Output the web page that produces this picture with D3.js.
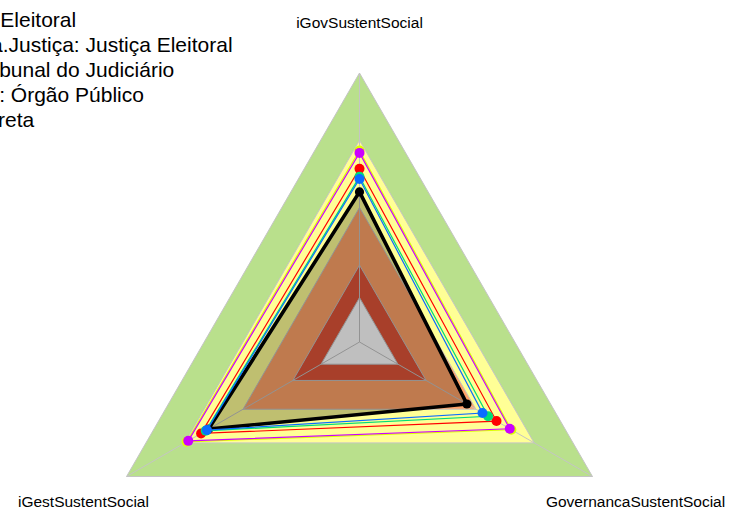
<!DOCTYPE html>
<html>
<head>
<meta charset="utf-8">
<script src="https://cdn.jsdelivr.net/npm/d3@7"></script>
<style>
  html, body { margin: 0; padding: 0; background: #ffffff; }
  svg { display: block; font-family: "Liberation Sans", Arial, sans-serif; }
</style>
</head>
<body>
<svg id="chart" width="733" height="511"></svg>
<script>
// ---------- data ----------
const axes = ["iGovSustentSocial", "GovernancaSustentSocial", "iGestSustentSocial"];

// background bands (outer radius as fraction of max)
const bandLevels = [1.0, 0.75, 0.5, 0.286, 0.165];
const bandColors = ["#B9E08C", "#FFFF96", "#FFA369", "#E05538", "#FFFFFF"];

// series values (same order as axes)
const orgValues     = [0.558, 0.461, 0.648];   // black, filled
const yellowValues  = [0.712, 0.652, 0.742];
const magentaValues = [0.703, 0.645, 0.735];
const redValues     = [0.644, 0.588, 0.680];
const greenValues   = [0.614, 0.552, 0.660];
const blueValues    = [0.606, 0.528, 0.655];

const seriesColors = {
  yellow: "#DDFF00", magenta: "#CC00FF", red: "#FF0000", green: "#00DD77", blue: "#0A6CFF"
};

const legendLabels = [
  "Ramo: Justiça Eleitoral",
  "Média p/Esfera.Justiça: Justiça Eleitoral",
  "Média Tipo: Tribunal do Judiciário",
  "Média Espécie: Órgão Público",
  "Média Adm. Direta"
];

// ---------- layout ----------
const svg = d3.select("#chart");
const cx = 359.5, cy = 342, R = 269;
const r = d3.scaleLinear().domain([0, 1]).range([0, R]);
const angle = d3.scalePoint().domain(axes).range([-Math.PI / 2, -Math.PI / 2 + 2 * Math.PI * 2 / 3]);
const pt = (a, v) => [cx + r(v) * Math.cos(angle(a)), cy + r(v) * Math.sin(angle(a))];
const polyPoints = vals => axes.map((a, i) => pt(a, vals[i]));
const line = d3.line().curve(d3.curveLinearClosed);

// bands
svg.append("g").selectAll("path").data(bandLevels).join("path")
  .attr("d", lv => line(axes.map(a => pt(a, lv))))
  .attr("fill", (d, i) => bandColors[i])
  .attr("stroke", "#C4C4C4").attr("stroke-width", 1);

// axis lines
svg.append("g").selectAll("line").data(axes).join("line")
  .attr("x1", cx).attr("y1", cy)
  .attr("x2", a => pt(a, 1)[0]).attr("y2", a => pt(a, 1)[1])
  .attr("stroke", "#C4C4C4").attr("stroke-width", 1);

// organisation polygon (filled, thick black)
svg.append("path").attr("d", line(polyPoints(orgValues)))
  .attr("fill", "#000").attr("fill-opacity", 0.25)
  .attr("stroke", "#000").attr("stroke-width", 3.6).attr("stroke-linejoin", "miter");
svg.append("g").selectAll("circle").data(polyPoints(orgValues)).join("circle")
  .attr("cx", d => d[0]).attr("cy", d => d[1]).attr("r", 4.6).attr("fill", "#000");

// other series
const others = [
  ["yellow", yellowValues], ["magenta", magentaValues], ["red", redValues],
  ["green", greenValues], ["blue", blueValues]
];
others.forEach(([name, vals]) => {
  svg.append("path").attr("d", line(polyPoints(vals)))
    .attr("fill", "none").attr("stroke", seriesColors[name]).attr("stroke-width", 1.2);
});
others.forEach(([name, vals]) => {
  svg.append("g").selectAll("circle").data(polyPoints(vals)).join("circle")
    .attr("cx", d => d[0]).attr("cy", d => d[1]).attr("r", 5).attr("fill", seriesColors[name]);
});

// axis labels
svg.append("g").selectAll("text").data(axes).join("text")
  .attr("x", a => pt(a, 1.185)[0]).attr("y", a => pt(a, 1.185)[1])
  .attr("dy", a => angle(a) < 0 ? "0.3em" : "0.35em").attr("text-anchor", "middle")
  .attr("font-size", 15.5).attr("fill", "#000")
  .text(a => a);

// legend (its left part falls outside the picture, as in the original)
svg.append("g").selectAll("text").data(legendLabels).join("text")
  .attr("x", -138.6).attr("y", (d, i) => 26.5 + i * 25)
  .attr("font-size", 21).attr("fill", "#000")
  .text(d => d);
</script>
</body>
</html>
